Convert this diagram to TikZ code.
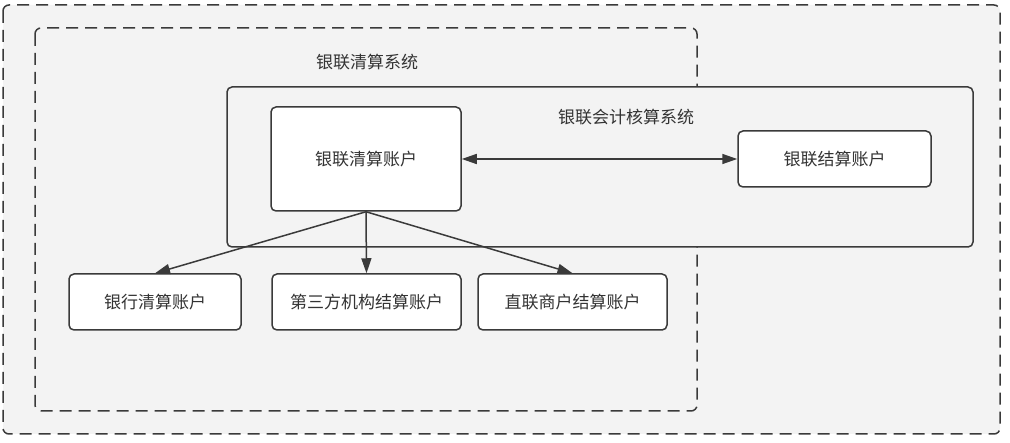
\documentclass[tikz,border=0pt]{standalone}
\usepackage{fontspec}
\setmainfont{Noto Sans CJK SC}
\usetikzlibrary{arrows.meta}
\definecolor{ln}{HTML}{3A3A3A}
\definecolor{bg}{HTML}{F3F3F3}
\definecolor{tx}{HTML}{333333}
\begin{document}
\begin{tikzpicture}[x=1pt,y=-1pt,
  group/.style={draw=ln,line width=1.5pt,dash pattern=on 12pt off 7pt,rounded corners=6pt,fill=bg},
  sysbox/.style={draw=ln,line width=1.5pt,rounded corners=5pt,fill=bg},
  acct/.style={draw=ln,line width=1.5pt,rounded corners=5pt,fill=white,text=tx,font=\fontsize{17}{19}\selectfont,inner sep=0pt},
  lbl/.style={text=tx,font=\fontsize{17}{19}\selectfont,inner sep=0pt},
  conn/.style={draw=ln,line width=1.5pt,-{Triangle[length=15pt,width=10pt]}},
  dconn/.style={draw=ln,line width=1.5pt,{Triangle[length=15pt,width=10pt]}-{Triangle[length=15pt,width=10pt]}}]
\useasboundingbox (0,0) rectangle (1010,443);
\fill[white] (0,0) rectangle (1010,443);
\draw[group] (3,5) rectangle (1000,434);
\draw[group] (35,28) rectangle (697,411);
\node[lbl] (t1) at (367,62) {银联清算系统};
\draw[sysbox] (227,87) rectangle (973,247);
\node[lbl] (t2) at (626,117) {银联会计核算系统};
\node[acct,minimum width=190pt,minimum height=104pt] (qs) at (366,159) {银联清算账户};
\node[acct,minimum width=193pt,minimum height=56pt] (js) at (834.5,159) {银联结算账户};
\node[acct,minimum width=172pt,minimum height=56pt] (b1) at (155,302) {银行清算账户};
\node[acct,minimum width=189pt,minimum height=56pt] (b2) at (366.5,302) {第三方机构结算账户};
\node[acct,minimum width=189pt,minimum height=56pt] (b3) at (572.5,302) {直联商户结算账户};
\draw[dconn] (qs.east) -- (js.west);
\draw[conn] (qs.south) -- (b1.north);
\draw[conn] (qs.south) -- (b2.north);
\draw[conn] (qs.south) -- (b3.north);
\end{tikzpicture}
\end{document}
